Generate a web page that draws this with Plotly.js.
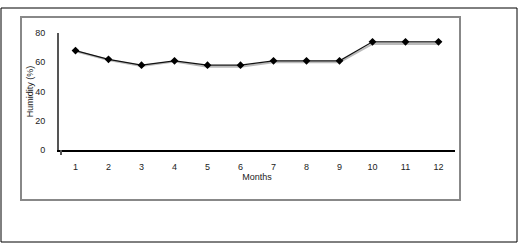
<!DOCTYPE html>
<html><head><meta charset="utf-8">
<script src="https://cdn.plot.ly/plotly-3.0.1.min.js"></script>
<style>html,body{margin:0;padding:0;background:#fff}#c{width:520px;height:246px}</style>
</head><body><div id="c"></div>
<script>
const months = [1,2,3,4,5,6,7,8,9,10,11,12];
const humidity = [68,62,58,61,58,58,61,61,61,74,74,74];
const humidityShade = [67.5,61.5,57.5,60.5,57,57,60,60,60,72.5,72.5,72.5];
const yTicks = [0,20,40,60,80];

const W=520,H=246;
const px=x=>x/W, py=y=>1-y/H;
const font={family:'Liberation Sans, Arial, sans-serif',size:9,color:'#222'};

const traces=[
 {x:months,y:humidityShade,mode:'lines',line:{color:'#bbb',width:2},hoverinfo:'skip',showlegend:false},
 {x:months,y:humidity,mode:'lines+markers',line:{color:'#111',width:1.2},
  marker:{symbol:'diamond',size:6,color:'#000'},showlegend:false}
];
const layout={
 width:W,height:H,margin:{l:0,r:0,t:0,b:0},
 paper_bgcolor:'#fff',plot_bgcolor:'#fff',font:font,showlegend:false,
 xaxis:{domain:[px(59),px(455)],range:[0.5,12.5],tickvals:months,ticktext:months.map(String),
  showgrid:false,zeroline:false,showline:true,linecolor:'#000',linewidth:2,
  ticks:'outside',ticklen:7,tickcolor:'rgba(0,0,0,0)',tickfont:font,
  title:{text:'Months',font:font,standoff:3}},
 yaxis:{domain:[py(150),py(33)],range:[0,80],tickvals:yTicks,
  showgrid:false,zeroline:false,showline:true,linecolor:'#555',linewidth:2,
  ticks:'outside',ticklen:10,tickcolor:'rgba(0,0,0,0)',tickfont:font,
  title:{text:'Humidity (%)',font:font,standoff:0}},
 shapes:[
  {type:'rect',xref:'paper',yref:'paper',x0:px(1),x1:px(517),y0:py(242),y1:py(8),line:{color:'#000',width:1}},
  {type:'rect',xref:'paper',yref:'paper',x0:px(21),x1:px(460),y0:py(200),y1:py(17),line:{color:'#888',width:2}},
  {type:'line',xref:'paper',yref:'paper',x0:px(61),x1:px(61),y0:py(155),y1:py(150),line:{color:'#555',width:2}}
 ]
};
Plotly.newPlot('c',traces,layout,{staticPlot:true,displayModeBar:false});
</script></body></html>
